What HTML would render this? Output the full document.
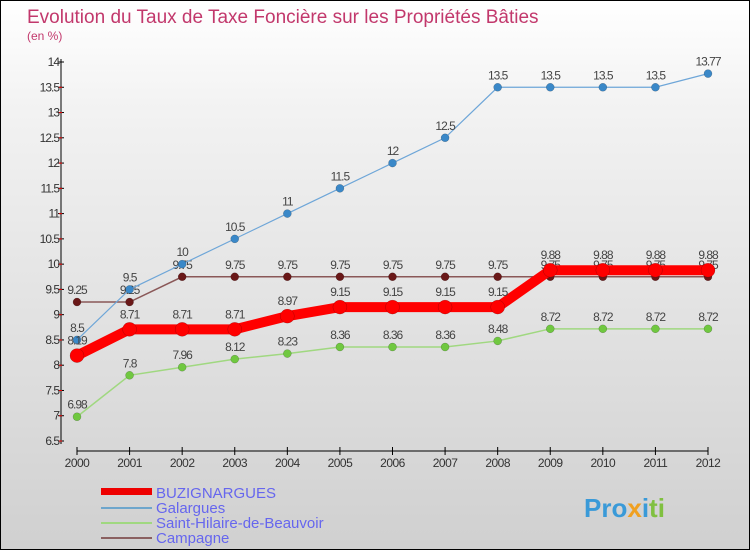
<!DOCTYPE html>
<html><head><meta charset="utf-8"><style>
body{margin:0}
#c{width:748px;height:548px;border:1px solid #000;position:relative;background:linear-gradient(#fff,#f2f2f2 20%,#d0d0d0);font-family:"Liberation Sans",sans-serif;overflow:hidden}
</style></head><body>
<div id="c">
<svg id="s" width="748" height="548">
<text x="26" y="22" font-size="19" fill="#c2386c">Evolution du Taux de Taxe Foncière sur les Propriétés Bâties</text>
<text x="26" y="39" font-size="12" fill="#c2386c">(en %)</text>
<g id="ax"></g><g id="ser"></g>
<g>
<rect x="100" y="487" width="51" height="7" fill="#e00"/>
<text x="155" y="497" font-size="15" fill="#6666ee">BUZIGNARGUES</text>
<rect x="100" y="506" width="51" height="2" fill="#6ea6cc"/>
<text x="155" y="512" font-size="15" fill="#6666ee">Galargues</text>
<rect x="100" y="521" width="51" height="2" fill="#a0d880"/>
<text x="155" y="527" font-size="15" fill="#6666ee">Saint-Hilaire-de-Beauvoir</text>
<rect x="100" y="536" width="51" height="2" fill="#8a6060"/>
<text x="155" y="542" font-size="15" fill="#6666ee">Campagne</text>
</g>
<text x="583" y="516" font-size="26" font-weight="bold" fill="#3a9ad8">Pro<tspan fill="#f0a020">x</tspan>i<tspan fill="#80c040">ti</tspan></text>
</svg></div>
<script>
const years=[2000,2001,2002,2003,2004,2005,2006,2007,2008,2009,2010,2011,2012];
const yTicks=[6.5,7,7.5,8,8.5,9,9.5,10,10.5,11,11.5,12,12.5,13,13.5,14];
const buzignargues=[8.19,8.71,8.71,8.71,8.97,9.15,9.15,9.15,9.15,9.88,9.88,9.88,9.88];
const galargues=[8.5,9.5,10,10.5,11,11.5,12,12.5,13.5,13.5,13.5,13.5,13.77];
const saintHilaire=[6.98,7.8,7.96,8.12,8.23,8.36,8.36,8.36,8.48,8.72,8.72,8.72,8.72];
const campagne=[9.25,9.25,9.75,9.75,9.75,9.75,9.75,9.75,9.75,9.75,9.75,9.75,9.75];
const NS="http://www.w3.org/2000/svg";
const X=i=>76+i*(631/12);
const Y=v=>61+(14-v)*(379/7.5);
function mk(t,a,p){const e=document.createElementNS(NS,t);for(const k in a)e.setAttribute(k,a[k]);p.appendChild(e);return e;}
const ax=document.getElementById('ax');
let l=mk('line',{x1:60,y1:58,x2:60,y2:443,stroke:'#000'},ax);


l=mk('line',{x1:76,y1:450,x2:707,y2:450,stroke:'#000'},ax);


yTicks.forEach((v,k)=>{
 mk('line',{x1:57,x2:63,y1:Y(v),y2:Y(v),stroke:'#000'},ax);
 if(k>0) mk('line',{x1:58,x2:61,y1:Y(v)+25.3,y2:Y(v)+25.3,stroke:'#e00'},ax);
 const t=mk('text',{x:58,y:Y(v)+4,'font-size':12,'text-anchor':'end',fill:'#333','letter-spacing':'-1'},ax);
 t.textContent=v;
 
 
});
years.forEach((y,i)=>{
 mk('line',{x1:X(i),x2:X(i),y1:446,y2:454,stroke:'#000'},ax);
 const t=mk('text',{x:X(i),y:466,'font-size':12,'text-anchor':'middle',fill:'#333','letter-spacing':'-0.5'},ax);
 t.textContent=y;
 
 
});
const ser=document.getElementById('ser');
function series(d,col,w,r,dot,name){
 const g=mk('g',{},ser);
 
 
 mk('polyline',{points:d.map((v,i)=>X(i)+','+Y(v)).join(' '),fill:'none',stroke:col,'stroke-width':w},g);
 d.forEach((v,i)=>{
  const c=mk('circle',{cx:X(i),cy:Y(v),r:r,fill:dot,stroke:'rgba(0,0,0,0.3)','stroke-width':0.5},g);
  
  
  const t=mk('text',{x:X(i),y:Y(v)-8-(r>5?3:0),'font-size':12,'text-anchor':'middle',fill:'#444','letter-spacing':'-1'},g);
  t.textContent=v;
 });
}
series(campagne,'#8a5858',1.5,4,'#6a1818','campagne');
series(saintHilaire,'#a0d880',1.5,4,'#70c840','saint-hilaire');
series(galargues,'#6ea6d8',1.2,4,'#3a88c8','galargues');
series(buzignargues,'#f00',10,7,'#f00','buzignargues');
</script>
</body></html>
